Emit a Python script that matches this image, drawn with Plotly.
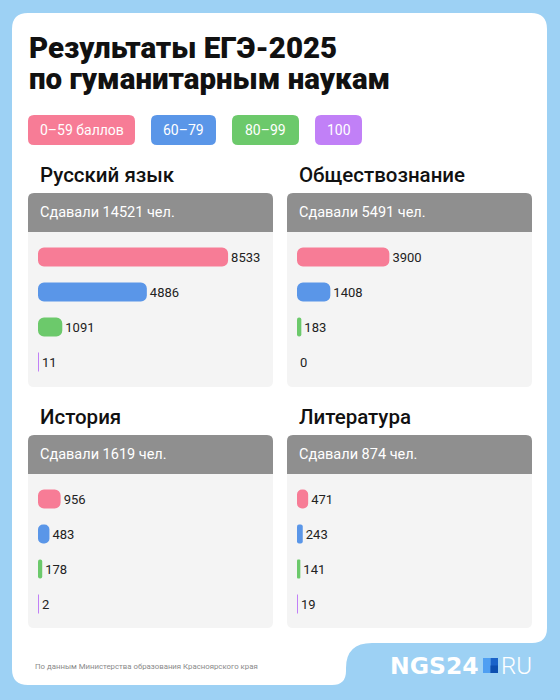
import plotly.graph_objects as go

# ---------------- data ----------------
title_lines = ["Результаты ЕГЭ-2025", "по гуманитарным наукам"]
subjects = ["Русский язык", "Обществознание", "История", "Литература"]
totals = [14521, 5491, 1619, 874]
band_labels = ["0–59 баллов", "60–79", "80–99", "100"]
band_keys = ["0–59", "60–79", "80–99", "100"]
russian = [8533, 4886, 1091, 11]
social = [3900, 1408, 183, 0]
history = [956, 483, 178, 2]
literature = [471, 243, 141, 19]
source_text = "По данным Министерства образования Красноярского края"

# ---------------- styles ----------------
W, H = 560, 700
BG = "#9DD1F4"
band_colors = ["#F77C96", "#5A96E8", "#6CC96B", "#C180F7"]
HEADER = "#8F8F8F"
BODY = "#F4F4F4"
FONT = "Roboto"


def X(x):
    return x / W


def Y(y):
    return 1 - y / H


def P(x, y):
    return f"{X(x):.5f},{Y(y):.5f}"


def rr_path(x0, y0, x1, y1, tl, tr, br, bl):
    return (f"M{P(x0 + tl, y0)} L{P(x1 - tr, y0)} Q{P(x1, y0)} {P(x1, y0 + tr)} "
            f"L{P(x1, y1 - br)} Q{P(x1, y1)} {P(x1 - br, y1)} "
            f"L{P(x0 + bl, y1)} Q{P(x0, y1)} {P(x0, y1 - bl)} "
            f"L{P(x0, y0 + tl)} Q{P(x0, y0)} {P(x0 + tl, y0)} Z")


shapes = []
annotations = []

# white card with notch at bottom-right
card = (f"M{P(28, 13)} L{P(531, 13)} Q{P(547, 13)} {P(547, 29)} "
        f"L{P(547, 628)} Q{P(547, 643)} {P(532, 643)} "
        f"L{P(372, 643)} Q{P(346, 643)} {P(346, 668)} "
        f"L{P(346, 671)} Q{P(346, 685)} {P(332, 685)} "
        f"L{P(28, 685)} Q{P(12, 685)} {P(12, 669)} "
        f"L{P(12, 29)} Q{P(12, 13)} {P(28, 13)} Z")
shapes.append(dict(type="path", path=card, xref="paper", yref="paper",
                   fillcolor="white", line=dict(width=0), layer="below"))

# title (two lines, tight leading)
for line, yc in zip(title_lines, [48, 79]):
    annotations.append(dict(text=line, x=X(27), y=Y(yc), xref="paper", yref="paper",
                            xanchor="left", yanchor="middle", align="left", showarrow=False,
                            font=dict(family=FONT, size=29.5, color="#111111", weight=900)))

# legend pills
pills = [(28, 135), (151, 216), (232, 299), (315, 362)]
for (x0, x1), lab, col in zip(pills, band_labels, band_colors):
    shapes.append(dict(type="path", path=rr_path(x0, 115, x1, 145, 6, 6, 6, 6), xref="paper", yref="paper",
                       fillcolor=col, line=dict(width=0), layer="below"))
    annotations.append(dict(text=lab, x=X((x0 + x1) / 2), y=Y(130), xref="paper", yref="paper",
                            xanchor="center", yanchor="middle", showarrow=False,
                            font=dict(family=FONT, size=14, color="white")))

# panels
panels = [
    dict(px0=28, px1=273, title_y=175, hy0=193, hy1=232, by1=387, ax0=38, ay0=239.5, ay1=379.5, rng=10100),
    dict(px0=287, px1=532, title_y=175, hy0=193, hy1=232, by1=387, ax0=297, ay0=239.5, ay1=379.5, rng=9500),
    dict(px0=28, px1=273, title_y=417, hy0=435, hy1=474, by1=628, ax0=38, ay0=481.5, ay1=621.5, rng=9500),
    dict(px0=287, px1=532, title_y=417, hy0=435, hy1=474, by1=628, ax0=297, ay0=481.5, ay1=621.5, rng=9500),
]
series = [russian, social, history, literature]

fig = go.Figure()
layout_axes = {}
for i, (pn, subj, tot, vals) in enumerate(zip(panels, subjects, totals, series)):
    n = "" if i == 0 else str(i + 1)
    # body + header
    shapes.append(dict(type="path", path=rr_path(pn["px0"], pn["hy0"], pn["px1"], pn["by1"], 6, 6, 6, 6),
                       xref="paper", yref="paper", fillcolor=BODY, line=dict(width=0), layer="below"))
    shapes.append(dict(type="path", path=rr_path(pn["px0"], pn["hy0"], pn["px1"], pn["hy1"], 6, 6, 0, 0),
                       xref="paper", yref="paper", fillcolor=HEADER, line=dict(width=0), layer="below"))
    annotations.append(dict(text=subj, x=X(pn["px0"] + 10), y=Y(pn["title_y"]), xref="paper", yref="paper",
                            xanchor="left", yanchor="middle", showarrow=False,
                            font=dict(family=FONT, size=20.5, color="#111111", weight=500)))
    annotations.append(dict(text=f"Сдавали {tot} чел.", x=X(pn["px0"] + 10), y=Y((pn["hy0"] + pn["hy1"]) / 2),
                            xref="paper", yref="paper", xanchor="left", yanchor="middle", showarrow=False,
                            font=dict(family=FONT, size=14.5, color="white")))
    # explicit zero base -> Plotly rounds both ends of each bar
    fig.add_trace(go.Bar(
        x=vals, base=[0] * len(vals), y=band_keys, orientation="h", width=0.54,
        marker=dict(color=band_colors, cornerradius=6, line=dict(width=0)),
        text=[str(v) for v in vals], textposition="outside", cliponaxis=False, constraintext="none",
        textfont=dict(family=FONT, size=13, color="#222222"),
        xaxis="x" + n, yaxis="y" + n, hoverinfo="skip",
    ))
    layout_axes["xaxis" + n] = dict(domain=[X(pn["ax0"]), X(pn["ax0"] + 225)], range=[0, pn["rng"]],
                                    visible=False, anchor="y" + n, fixedrange=True)
    layout_axes["yaxis" + n] = dict(domain=[Y(pn["ay1"]), Y(pn["ay0"])], categoryorder="array",
                                    categoryarray=band_keys, autorange="reversed", visible=False,
                                    anchor="x" + n, fixedrange=True)

# source
annotations.append(dict(text=source_text, x=X(33), y=Y(666), xref="paper", yref="paper",
                        xanchor="left", yanchor="middle", showarrow=False,
                        font=dict(family=FONT, size=7.8, color="#8A8A8A")))

# logo
annotations.append(dict(text="<b>NGS24</b>", x=X(481), y=Y(666), xref="paper", yref="paper",
                        xanchor="right", yanchor="middle", showarrow=False,
                        font=dict(family="DejaVu Sans", size=23.5, color="white")))
annotations.append(dict(text="RU", x=X(499), y=Y(666), xref="paper", yref="paper",
                        xanchor="left", yanchor="middle", showarrow=False,
                        font=dict(family=FONT, size=24, color="white", weight=300)))
shapes.append(dict(type="rect", x0=X(483), x1=X(490.5), y0=Y(673), y1=Y(658), xref="paper", yref="paper",
                   fillcolor="#4F9FF2", line=dict(width=0)))
shapes.append(dict(type="rect", x0=X(490.5), x1=X(498), y0=Y(673), y1=Y(658), xref="paper", yref="paper",
                   fillcolor="#1A63C9", line=dict(width=0)))
shapes.append(dict(type="rect", x0=X(490.5), x1=X(498), y0=Y(673), y1=Y(665.5), xref="paper", yref="paper",
                   fillcolor="#0D4FB0", line=dict(width=0)))

fig.update_layout(
    width=W, height=H, margin=dict(l=0, r=0, t=0, b=0),
    paper_bgcolor=BG, plot_bgcolor="rgba(0,0,0,0)", showlegend=False,
    shapes=shapes, annotations=annotations, barmode="overlay",
    **layout_axes,
)

fig.write_html("out.html", config={"displayModeBar": False},
               post_script="document.body.style.margin='0';document.body.style.overflow='hidden';")
